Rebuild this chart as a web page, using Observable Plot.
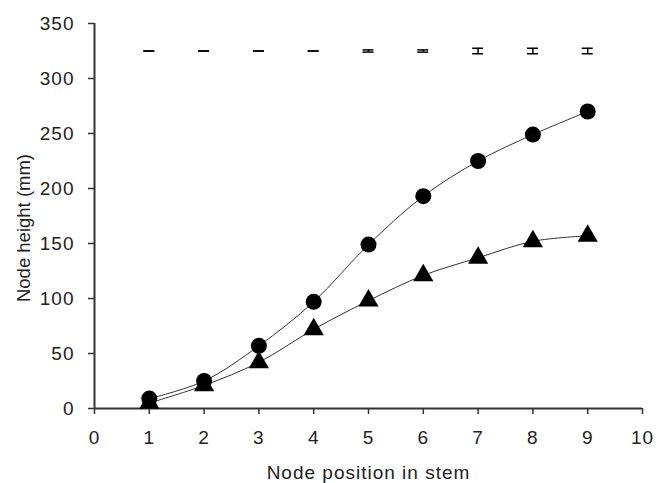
<!DOCTYPE html>
<html>
<head>
<meta charset="utf-8">
<script src="https://cdn.jsdelivr.net/npm/d3@7"></script>
<script src="https://cdn.jsdelivr.net/npm/@observablehq/plot@0.6"></script>
<style>
  html, body { margin: 0; padding: 0; background: #fff; }
  #chart svg { display: block; }
  #chart svg text { letter-spacing: 1px; }
  #chart svg g.ylabel text { letter-spacing: 0px; }
</style>
</head>
<body>
<div id="chart"></div>
<script>
const nodePositions = [1, 2, 3, 4, 5, 6, 7, 8, 9];
const circleHeights = [9, 25, 57, 97, 149, 193, 225, 249, 270];
const triangleHeights = [5, 21, 42, 72, 98, 121, 137, 152, 157];
const errorBarLevel = 325;
const errorHalf = [0, 0, 0, 0, 1, 1, 2.5, 2.5, 2.5];
const xTicks = [0, 1, 2, 3, 4, 5, 6, 7, 8, 9, 10];
const yTicks = [0, 50, 100, 150, 200, 250, 300, 350];
const xLabel = "Node position in stem";
const yLabel = "Node height (mm)";

const circles = nodePositions.map((x, i) => ({x, y: circleHeights[i]}));
const triangles = nodePositions.map((x, i) => ({x, y: triangleHeights[i]}));
const errs = nodePositions.map((x, i) => ({x, lo: errorBarLevel - errorHalf[i], hi: errorBarLevel + errorHalf[i]}));
const capW = 0.1;

const font = "'Liberation Sans', Arial, sans-serif";

const chart = Plot.plot({
  width: 657,
  height: 483,
  marginLeft: 94,
  marginRight: 15,
  marginTop: 23,
  marginBottom: 75,
  style: {fontFamily: font, fontSize: "19px", color: "#222", background: "#fff"},
  x: {domain: [0, 10], ticks: xTicks},
  y: {domain: [0, 350], ticks: yTicks},
  marks: [
    Plot.axisX({ticks: xTicks, tickSize: 6, tickPadding: 16, stroke: "#333", strokeWidth: 1.5, fill: "#222",
      label: xLabel, labelAnchor: "center", labelArrow: "none", labelOffset: 70}),
    Plot.axisY({ticks: yTicks, tickSize: 6, tickPadding: 14, stroke: "#333", strokeWidth: 1.5, fill: "#222",
      label: null}),
    Plot.text([yLabel], {frameAnchor: "left", rotate: -90, dx: -70, dy: 12, fill: "#222", fontSize: 18.5,
      textAnchor: "middle", lineAnchor: "middle", className: "ylabel"}),
    Plot.ruleY([0], {stroke: "#333", strokeWidth: 2}),
    Plot.ruleX([0], {stroke: "#333", strokeWidth: 2}),
    Plot.line(circles, {x: "x", y: "y", stroke: "#333", strokeWidth: 1, curve: "catmull-rom"}),
    Plot.line(triangles, {x: "x", y: "y", stroke: "#333", strokeWidth: 1, curve: "catmull-rom"}),
    Plot.dot(circles, {x: "x", y: "y", r: 8, fill: "#000", stroke: "none"}),
    Plot.dot(triangles, {x: "x", y: "y", r: 7.5, symbol: "triangle", fill: "#000", stroke: "none"}),
    Plot.ruleX(errs, {x: "x", y1: "lo", y2: "hi", stroke: "#000", strokeWidth: 1.5}),
    Plot.ruleY(errs, {y: "lo", x1: d => d.x - capW, x2: d => d.x + capW, stroke: "#000", strokeWidth: 1.5}),
    Plot.ruleY(errs, {y: "hi", x1: d => d.x - capW, x2: d => d.x + capW, stroke: "#000", strokeWidth: 1.5})
  ]
});
document.getElementById("chart").appendChild(chart);
</script>
</body>
</html>
